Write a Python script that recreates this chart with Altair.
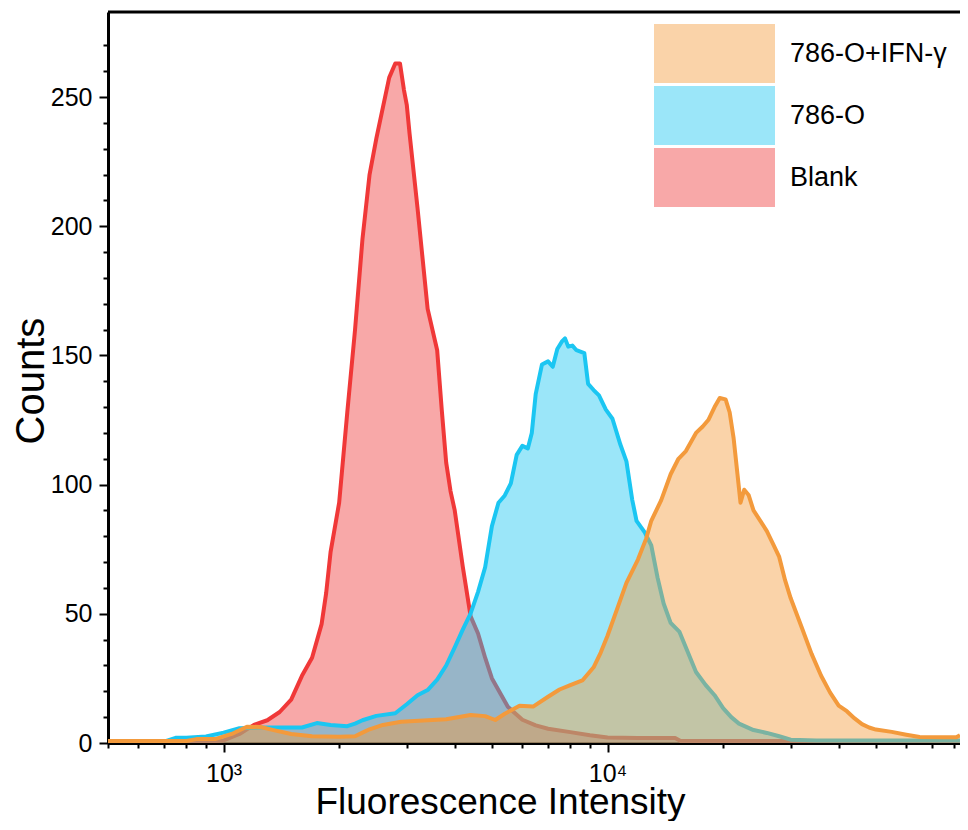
import altair as alt
import pandas as pd

# ---------------- data ----------------
samples = ["Blank", "786-O", "786-O+IFN-γ"]
legend_order = ["786-O+IFN-γ", "786-O", "Blank"]
stroke_colors = ["#F39A3C", "#1BC6F2", "#F03838"]  # in legend_order

blank_x = [500, 700, 800, 900, 1000, 1100, 1200, 1300, 1400, 1500, 1600, 1700, 1800, 1850, 1900,
           2000, 2100, 2200, 2300, 2400, 2500, 2600, 2700, 2800, 2880, 2950, 3000, 3050, 3200, 3400,
           3600, 3700, 3800, 3900, 4000, 4200, 4400, 4600, 4800, 5000, 5500, 6000, 6500, 7000, 8000,
           9000, 10000, 12000, 15000, 15500, 30000, 31000, 82800]
blank_y = [0, 0, 0.3, 0.5, 1.0, 3.5, 7, 8.8, 12, 16.8, 26, 33, 46, 58, 74,
           93, 128, 160, 195, 220, 234, 246, 257.5, 263, 263, 252.7, 247, 236, 207, 168,
           152, 129, 108.5, 97.5, 90, 68, 49, 42.4, 33, 25, 14, 9, 6.8, 5.5, 4.2,
           3, 2.1, 1.9, 1.9, 0.8, 0.8, 0, 0]

cyan_x = [500, 700, 750, 800, 900, 1000, 1100, 1300, 1600, 1750, 1900, 2100, 2200, 2300, 2500,
          2800, 3000, 3200, 3400, 3600, 3800, 4000, 4200, 4400, 4600, 4800, 5000, 5200, 5400, 5600,
          5800, 6000, 6200, 6350, 6500, 6750, 7000, 7200, 7400, 7600, 7750, 7900, 8100, 8300, 8700,
          8900, 9200, 9500, 9900, 10300, 10800, 11200, 11600, 11900, 12500, 13000, 13500, 14000, 14600,
          15400, 16000, 17000, 18000, 19000, 20000, 21000, 22000, 24000, 26000, 28000, 30000, 35000, 82800]
cyan_y = [0.5, 0.5, 2, 2, 2.5, 4, 5.7, 6, 6, 7.7, 7, 6.5, 7.5, 8.8, 10.5,
          11.5, 15, 18.5, 20.5, 24.5, 30, 37, 44, 50.2, 58.5, 68, 84, 93, 95.8, 100.5,
          111.5, 115, 114, 120, 135, 146.5, 147.7, 145.6, 152.5, 155.3, 156.6, 153.4, 153.8, 152, 150.9,
          139, 136.6, 134.5, 129, 125.5, 115.5, 109, 94, 86, 81.5, 76.5, 64, 54, 46.5,
          43, 37, 27.5, 22.5, 18.5, 13.5, 10, 7.5, 5, 3.9, 2.6, 1.3, 1, 1]

ifn_x = [500, 800, 850, 950, 1050, 1150, 1250, 1350, 1500, 1700, 2000, 2200, 2300, 2400, 2600,
         2900, 3500, 3800, 4000, 4400, 4800, 5100, 5400, 5900, 6400, 7000, 7500, 8000, 8600, 9200,
         9600, 10000, 10600, 11200, 12000, 12600, 13000, 13800, 14600, 15300, 16000, 17000, 17700, 18300,
         19000, 19600, 20300, 20800, 21300, 21800, 22200, 22700, 23300, 24000, 25000, 26000, 27000, 28000,
         29000, 30000, 32000, 34000, 36000, 38000, 40000, 42000, 44000, 46000, 48000, 50000, 55000, 60000,
         65000, 75000, 81000, 82800]
ifn_y = [0.8, 0.8, 1.5, 1.5, 3.5, 6.3, 6.2, 5, 3.5, 2.6, 2.4, 2.6, 4, 5.3, 7,
         8.2, 8.9, 9.2, 9.8, 10.8, 10.4, 8.9, 11.3, 14.4, 14.1, 17.9, 20.7, 22.4, 24.2, 29.3,
         35, 41.5, 52, 62, 71, 79, 86, 94, 104, 110, 113, 120, 122.5, 125,
         130, 133.5, 133, 128, 118, 104, 93, 98, 96, 90, 86, 82, 77, 72,
         63, 56, 45, 34.5, 26, 19.5, 14.5, 12.3, 9.5, 7.3, 6, 5.2, 4.3, 3.2,
         2.3, 2.2, 2.2, 3]

x_ticks = [500, 600, 700, 800, 900, 1000, 2000, 3000, 4000, 5000, 6000, 7000, 8000, 9000,
           10000, 20000, 30000, 40000, 50000, 60000, 70000, 80000]
y_ticks = list(range(0, 271, 10))

series = {"Blank": (blank_x, blank_y), "786-O": (cyan_x, cyan_y), "786-O+IFN-γ": (ifn_x, ifn_y)}
rows = []
for name in samples:
    xs, ys = series[name]
    for a, b in zip(xs, ys):
        rows.append({"intensity": a, "count": b, "sample": name})
df = pd.DataFrame(rows)

W, H = 852, 731
FONT = "Liberation Sans"

x_enc = alt.X(
    "intensity:Q",
    scale=alt.Scale(type="log", domain=[500, 82800], nice=False),
    axis=alt.Axis(
        values=x_ticks,
        labelExpr="datum.value === 1000 ? '10³' : (datum.value === 10000 ? '10⁴' : '')",
        tickSize={"condition": {"test": "datum.value === 1000 || datum.value === 10000", "value": 9}, "value": 5},
        tickWidth=2, tickColor="black", domainWidth=3, domainColor="black",
        labelFontSize=25, labelPadding=9, labelColor="black", labelOverlap=False, labelFlush=False,
        title="Fluorescence Intensity", titleFontSize=37, titleFontWeight="normal", titleColor="black",
        titleX=392, titleY=70, titleBaseline="alphabetic", titleAlign="center", grid=False,
    ),
)
y_enc = alt.Y(
    "count:Q",
    scale=alt.Scale(domain=[0, 282.9], nice=False),
    axis=alt.Axis(
        values=y_ticks,
        labelExpr="datum.value % 50 === 0 ? datum.label : ''",
        tickSize={"condition": {"test": "datum.value % 50 === 0", "value": 9}, "value": 5},
        tickWidth=2, tickColor="black", domainWidth=3, domainColor="black",
        labelFontSize=25, labelPadding=7, labelColor="black", labelOverlap=False, labelFlush=False,
        title="Counts", titleFontSize=40, titleFontWeight="normal", titleColor="black",
        titleAngle=270, titleX=-65, titleY=H / 2 + 3, titleBaseline="alphabetic", titleAlign="center",
        grid=False,
    ),
)

fill_scale = alt.Scale(domain=legend_order, range=stroke_colors)
legend = alt.Legend(
    orient="none", legendX=546, legendY=12, title=None, padding=0,
    symbolType="M-1,-0.4876H1V0.4876H-1Z", symbolSize=14641, symbolStrokeWidth=0,
    symbolOpacity=0.44, labelFontSize=27, labelFont=FONT, labelColor="black",
    labelOffset=15, rowPadding=3, clipHeight=59, labelLimit=400,
)

layers = []
for name in samples:
    base = alt.Chart(df).transform_filter(alt.datum.sample == name)
    area = base.mark_area(opacity=0.44, clip=True).encode(
        x=x_enc, y=y_enc,
        fill=alt.Fill("sample:N", scale=fill_scale, legend=legend),
    )
    line = base.mark_line(strokeWidth=4, strokeJoin="round", clip=True).encode(
        x=x_enc, y=y_enc,
        stroke=alt.Stroke("sample:N", scale=fill_scale, legend=None),
    )
    layers += [area, line]

top_frame = alt.Chart(pd.DataFrame({"k": [0]})).mark_rule(color="black", strokeWidth=3).encode(
    x=alt.value(0), x2=alt.value(W), y=alt.value(0)
)
layers.append(top_frame)

chart = (
    alt.layer(*layers)
    .properties(
        width=W, height=H,
        autosize=alt.AutoSizeParams(type="none"),
        padding={"left": 100, "top": 4, "right": 0, "bottom": 78},
    )
    .configure_view(stroke=None)
    .configure(font=FONT)
)

chart.save("out.html", embed_options={"renderer": "svg", "actions": False})
